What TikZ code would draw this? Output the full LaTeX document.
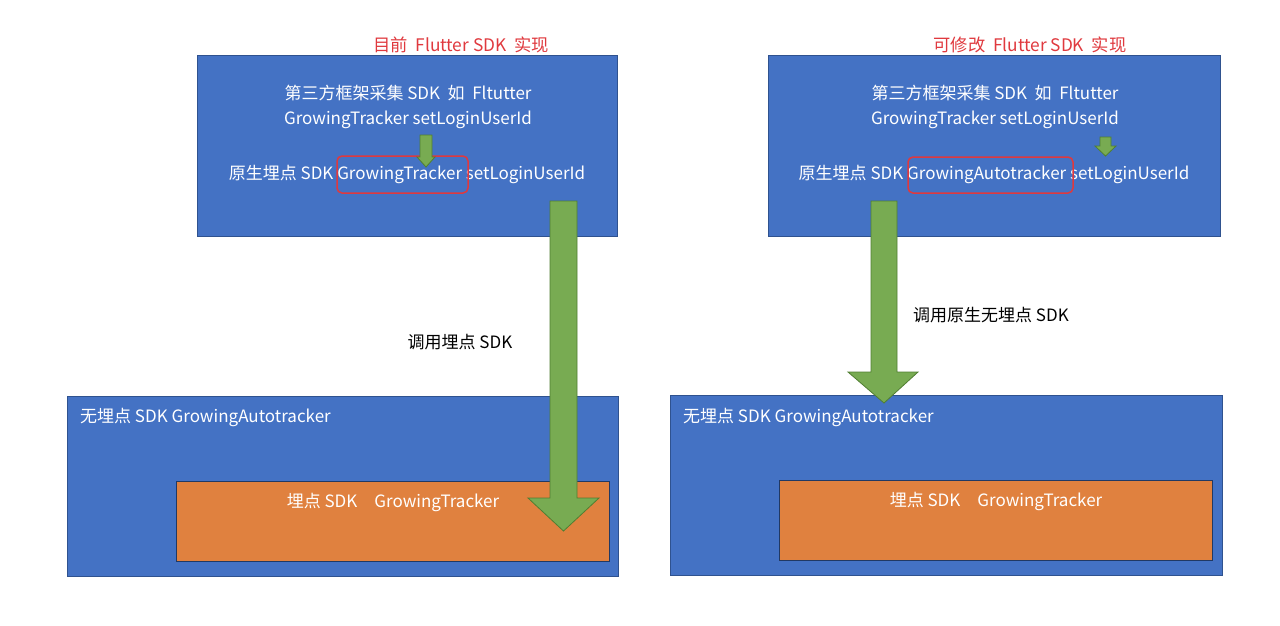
\documentclass[tikz,border=0pt]{standalone}
\usepackage{fontspec}
\setmainfont{Noto Sans CJK SC}
\usetikzlibrary{positioning}

\definecolor{boxblue}{HTML}{4472C4}
\definecolor{edgeblue}{HTML}{2F528F}
\definecolor{boxorange}{HTML}{E0813F}
\definecolor{arrgreen}{HTML}{78AB52}
\definecolor{edgegreen}{HTML}{507E32}
\definecolor{markred}{HTML}{E0393E}

\begin{document}
\begin{tikzpicture}[x=1pt,y=-1pt]
        \tikzstyle{sdkbox} = [draw=edgeblue, fill=boxblue, line width=0.8pt]
        \tikzstyle{corebox} = [draw=edgeblue!70!black, fill=boxorange, line width=0.8pt]
        \tikzstyle{txt} = [inner sep=0pt, text=white, font=\fontsize{17}{19}\selectfont]
        \tikzstyle{headtxt} = [inner sep=0pt, text=markred, font=\fontsize{17.3}{19}\selectfont]
        \tikzstyle{lbl} = [inner sep=0pt, text=black, font=\fontsize{17}{19}\selectfont]
        \tikzstyle{redframe} = [draw=markred, rounded corners=5pt, line width=1.5pt]
        \tikzstyle{blk} = [draw=edgegreen, fill=arrgreen, line width=0.8pt, line join=miter]
        % block arrow: shaft x1..x2 from y0, head hx1..hx2 from yh, tip at yt
        \newcommand{\blockarrow}[7]{%
          \draw[blk] (#1,#3) -- (#2,#3) -- (#2,#4) -- (#6,#4) -- ({(#1+#2)/2},#7)
            -- (#5,#4) -- (#1,#4) -- cycle;}
        \useasboundingbox[fill=white] (0,0) rectangle (1280,625);

        % left side
        \draw[sdkbox] (197,55) rectangle (617,236);
        \node[headtxt] (lt) at (461,45) {目前\ \ Flutter SDK\ \ 实现};
        \node[txt] (l1) at (408,93) {第三方框架采集 SDK\ \ 如\ \ Fltutter};
        \node[txt] (l2) at (408,120) {GrowingTracker setLoginUserId};
        \node[txt] (l3) at (407,174) {原生埋点 SDK GrowingTracker setLoginUserId};
        \draw[redframe] (337,156) rectangle (468,193);
        \blockarrow{420}{432}{135}{157}{417}{435}{167}
        \draw[sdkbox] (67,396) rectangle (618,576);
        \node[txt, anchor=west] (lb) at (80,417) {无埋点 SDK GrowingAutotracker};
        \draw[corebox] (176,481) rectangle (609,561);
        \node[txt] (lc) at (393,502) {埋点 SDK\quad GrowingTracker};
        \blockarrow{550}{577}{201}{498}{528}{599}{531}
        \node[lbl] (lcall) at (460,342) {调用埋点 SDK};

        % right side
        \draw[sdkbox] (768,55) rectangle (1220,236);
        \node[headtxt] (rt) at (1030,45) {可修改\ \ Flutter SDK\ \ 实现};
        \node[txt] (r1) at (995,93) {第三方框架采集 SDK\ \ 如\ \ Fltutter};
        \node[txt] (r2) at (995,120) {GrowingTracker setLoginUserId};
        \node[txt] (r3) at (994,174) {原生埋点 SDK GrowingAutotracker setLoginUserId};
        \draw[redframe] (908,157) rectangle (1073,193);
        \blockarrow{1100}{1111}{137}{146}{1095}{1116}{156}
        \draw[sdkbox] (670,395) rectangle (1222,575);
        \node[txt, anchor=west] (rb) at (683,417) {无埋点 SDK GrowingAutotracker};
        \draw[corebox] (779,480) rectangle (1212,560);
        \node[txt] (rc) at (996,501) {埋点 SDK\quad GrowingTracker};
        \blockarrow{871}{897}{201}{372}{848}{918}{403}
        \node[lbl] (rcall) at (991,315) {调用原生无埋点 SDK};
\end{tikzpicture}
\end{document}
